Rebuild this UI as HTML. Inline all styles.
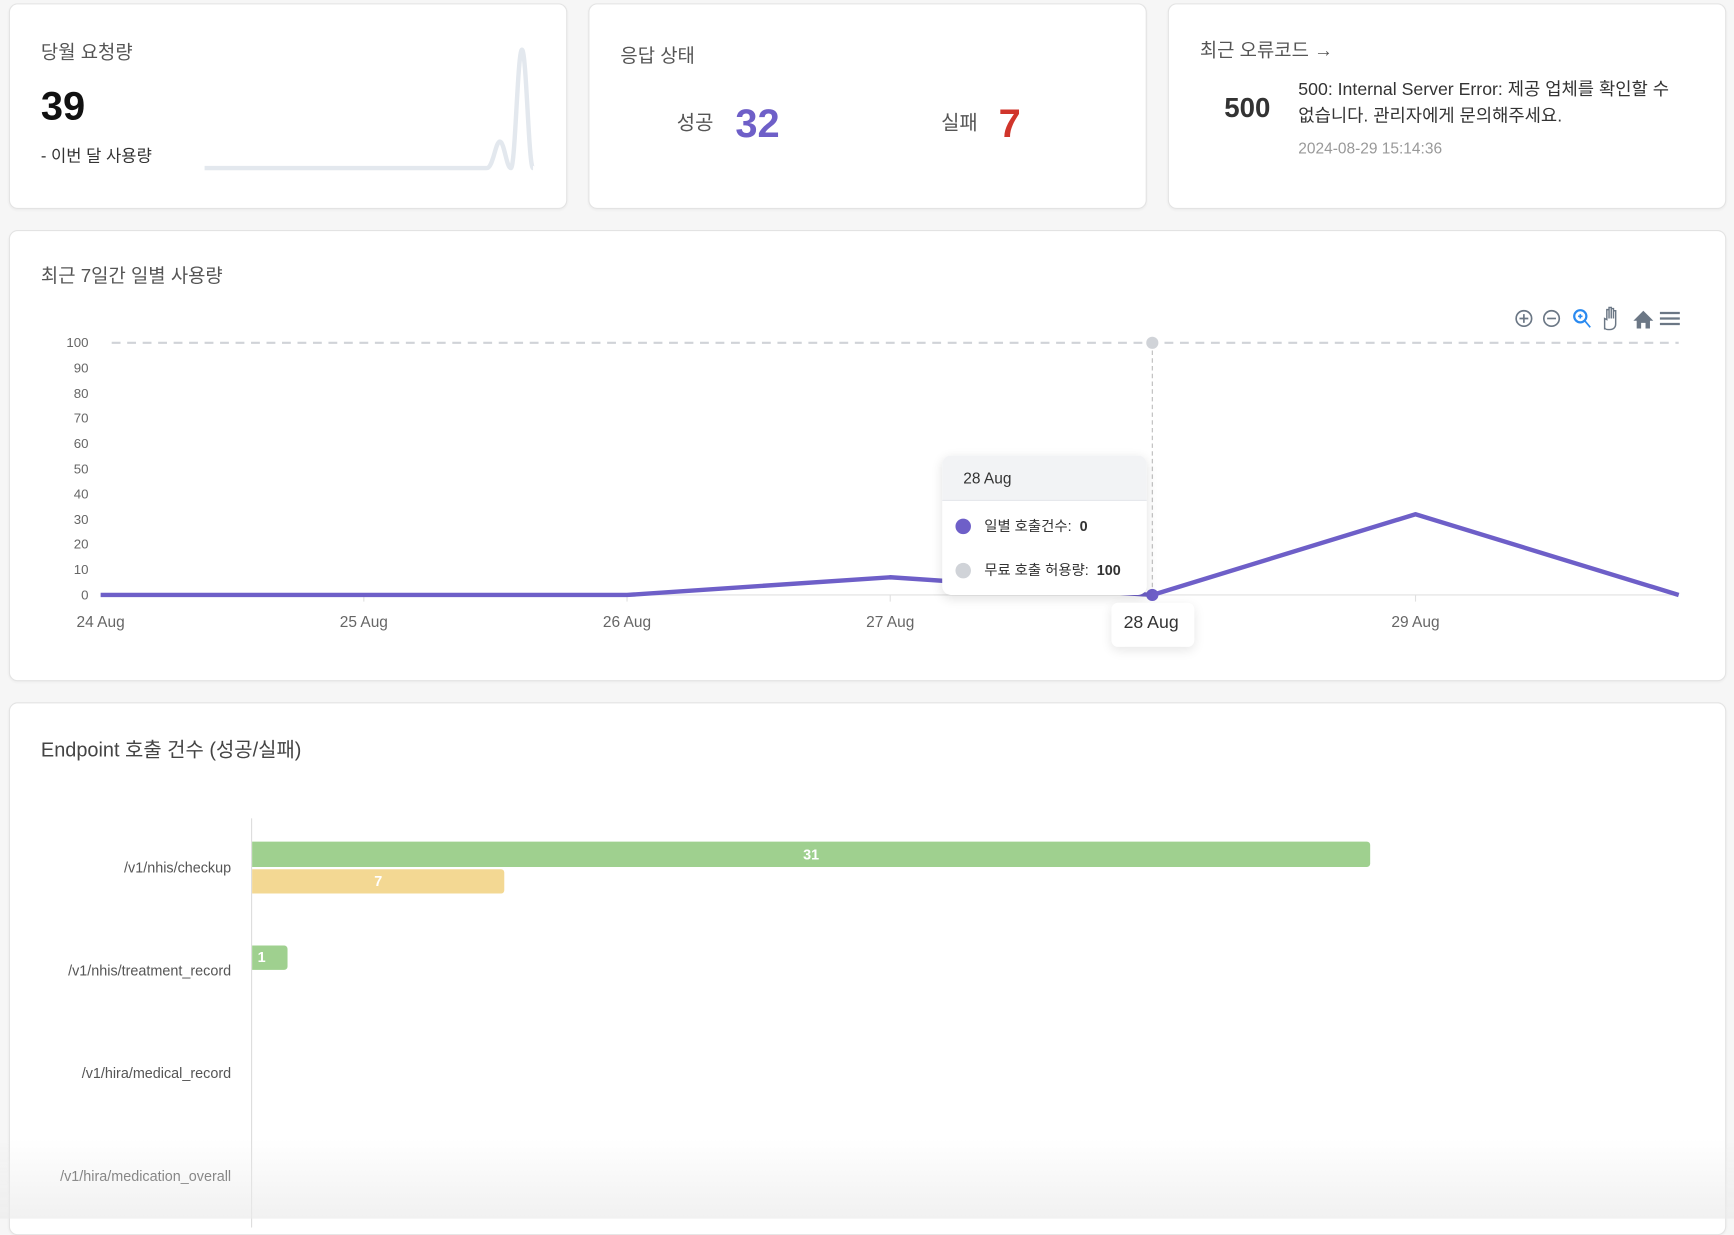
<!DOCTYPE html>
<html><head><meta charset="utf-8"><style>
html,body{margin:0;padding:0;width:1734px;height:1218px;overflow:hidden;background:#f6f6f6;}
#w{position:absolute;left:0;top:0;width:1568px;height:1102px;transform:scale(1.10587);transform-origin:0 0;font-family:"Liberation Sans","Noto Sans CJK KR",sans-serif;color:#333;}
.card{position:absolute;background:#fff;border:1px solid #e3e3e3;border-radius:8px;box-shadow:0 1px 2px rgba(0,0,0,.04);}
.t{position:absolute;white-space:nowrap;line-height:1;}
</style></head><body><div id="w">
<div class="card" style="left:8px;top:3px;width:503px;height:184px"></div>
<div class="card" style="left:532px;top:3px;width:503px;height:184px"></div>
<div class="card" style="left:1056px;top:3px;width:503px;height:184px"></div>
<div class="card" style="left:8px;top:208px;width:1551px;height:406px"></div>
<div class="card" style="left:8px;top:635px;width:1551px;height:480px"></div>

<div class="t" style="left:37px;top:39px;font-size:17px;color:#555">당월 요청량</div>
<div class="t" style="left:37px;top:78px;font-size:36px;font-weight:bold;color:#111">39</div>
<div class="t" style="left:37px;top:134px;font-size:15px;color:#333">- 이번 달 사용량</div>
<svg style="position:absolute;left:0;top:0" width="520" height="190"><path d="M185 152 L440 152 C446 152,448 128,452 128 C456 128,458 152,462 152 C466 152,468 45,472 45 C476 45,478 152,482 152" fill="none" stroke="#e3e8ee" stroke-width="4"/></svg>

<div class="t" style="left:561px;top:42px;font-size:17px;color:#555">응답 상태</div>
<div class="t" style="left:612px;top:102px;font-size:18px;color:#555">성공</div>
<div class="t" style="left:665px;top:94px;font-size:36px;font-weight:bold;color:#6e5fc8">32</div>
<div class="t" style="left:851px;top:102px;font-size:18px;color:#555">실패</div>
<div class="t" style="left:903px;top:94px;font-size:36px;font-weight:bold;color:#d0352b">7</div>

<div class="t" style="left:1085px;top:37px;font-size:17px;color:#555">최근 오류코드 →</div>
<div class="t" style="left:1107px;top:86px;font-size:25px;font-weight:bold;color:#333">500</div>
<div class="t" style="left:1174px;top:74px;font-size:16px;color:#333">500: Internal Server Error: 제공 업체를 확인할 수</div>
<div class="t" style="left:1174px;top:98px;font-size:16px;color:#333">없습니다. 관리자에게 문의해주세요.</div>
<div class="t" style="left:1174px;top:127px;font-size:14px;color:#999">2024-08-29 15:14:36</div>

<div class="t" style="left:37px;top:241px;font-size:17px;color:#555">최근 7일간 일별 사용량</div>
<svg style="position:absolute;left:0;top:0" width="1568" height="620" font-family="Liberation Sans, Noto Sans CJK KR, sans-serif">
<g font-size="12" fill="#666" text-anchor="end">
<text x="80" y="314">100</text><text x="80" y="337">90</text><text x="80" y="360">80</text><text x="80" y="382">70</text><text x="80" y="405">60</text><text x="80" y="428">50</text><text x="80" y="451">40</text><text x="80" y="474">30</text><text x="80" y="496">20</text><text x="80" y="519">10</text><text x="80" y="542">0</text></g>
<line x1="91" y1="538" x2="1518" y2="538" stroke="#e0e0e0"/>
<g stroke="#e0e0e0"><line x1="329" y1="538" x2="329" y2="544"/><line x1="567" y1="538" x2="567" y2="544"/><line x1="805" y1="538" x2="805" y2="544"/><line x1="1280" y1="538" x2="1280" y2="544"/></g>
<g font-size="14" fill="#666" text-anchor="middle"><text x="91" y="567">24 Aug</text><text x="329" y="567">25 Aug</text><text x="567" y="567">26 Aug</text><text x="805" y="567">27 Aug</text><text x="1280" y="567">29 Aug</text></g>
<line x1="101" y1="310" x2="1518" y2="310" stroke="#d0d3d8" stroke-width="2" stroke-dasharray="8,6"/>
<line x1="1042" y1="310" x2="1042" y2="538" stroke="#bbb" stroke-dasharray="4,3"/>
<polyline points="91,538 329,538 567,538 805,522 1042,538 1280,465 1518,538" fill="none" stroke="#6e5fc8" stroke-width="4" stroke-linejoin="round"/>
<circle cx="1042" cy="310" r="5.5" fill="#d0d3d8"/>
<circle cx="1042" cy="538" r="5.5" fill="#6e5fc8"/>
<g fill="none" stroke="#6b7785" stroke-width="1.5"><circle cx="1378" cy="288" r="7"/><path d="M1374 288h8M1378 284v8"/><circle cx="1403" cy="288" r="7"/><path d="M1399 288h8"/></g>
<g fill="none" stroke="#2a8af0" stroke-width="2"><circle cx="1429" cy="286" r="5.5"/><path d="M1433 290l5 6M1427 286h4M1429 284v4" stroke-width="1.5"/></g>
<path d="M1451 298v-10l2 1v-9h2v8v-10h2v10v-9h2v9v-7h2v12c0 3-2 5-5 5h-2c-2 0-3-1-3-2z" fill="none" stroke="#6b7785" stroke-width="1.3"/>
<path d="M1477 290l9-9 9 9h-3v7h-4v-5h-4v5h-4v-7z" fill="#6b7785"/>
<g stroke="#6b7785" stroke-width="2"><path d="M1501 283h18M1501 288h18M1501 293h18"/></g>
</svg>
<div style="position:absolute;left:852px;top:412px;width:185px;height:126px;background:#fff;border-radius:8px;box-shadow:0 3px 10px rgba(0,0,0,.12);overflow:hidden">
<div style="height:40px;background:#f2f3f5;border-bottom:1px solid #e5e7eb"></div>
<div class="t" style="left:19px;top:13px;font-size:14px;color:#333">28 Aug</div>
<div style="position:absolute;left:12px;top:57px;width:14px;height:14px;border-radius:50%;background:#6e5fc8"></div>
<div class="t" style="left:38px;top:57px;font-size:13px;color:#333">일별 호출건수:&nbsp; <b>0</b></div>
<div style="position:absolute;left:12px;top:97px;width:14px;height:14px;border-radius:50%;background:#d0d3d8"></div>
<div class="t" style="left:38px;top:97px;font-size:13px;color:#333">무료 호출 허용량:&nbsp; <b>100</b></div>
</div>
<div style="position:absolute;left:1005px;top:545px;width:75px;height:40px;background:#fff;border-radius:6px;box-shadow:0 3px 10px rgba(0,0,0,.1)"></div>
<div class="t" style="left:1016px;top:556px;font-size:16px;color:#333">28 Aug</div>

<div class="t" style="left:37px;top:669px;font-size:18px;color:#444">Endpoint 호출 건수 (성공/실패)</div>
<div style="position:absolute;left:227px;top:740px;width:1px;height:370px;background:#ddd"></div>
<div class="t" style="right:1359px;top:778px;font-size:13px;color:#555">/v1/nhis/checkup</div>
<div class="t" style="right:1359px;top:871px;font-size:13px;color:#555">/v1/nhis/treatment_record</div>
<div class="t" style="right:1359px;top:964px;font-size:13px;color:#555">/v1/hira/medical_record</div>
<div class="t" style="right:1359px;top:1057px;font-size:13px;color:#555">/v1/hira/medication_overall</div>
<div style="position:absolute;left:228px;top:761px;width:1011px;height:23px;background:#9fd08f;border-radius:0 3px 3px 0;color:#fff;font-weight:bold;font-size:13px;text-align:center;line-height:23px">31</div>
<div style="position:absolute;left:228px;top:786px;width:228px;height:22px;background:#f3d893;border-radius:0 3px 3px 0;color:#fff;font-weight:bold;font-size:13px;text-align:center;line-height:22px">7</div>
<div style="position:absolute;left:228px;top:855px;width:32px;height:22px;background:#9fd08f;border-radius:0 3px 3px 0;color:#fff;font-weight:bold;font-size:13px;line-height:22px;padding-left:5px;box-sizing:border-box">1</div>
<div style="position:absolute;left:0;top:1030px;width:1568px;height:72px;background:linear-gradient(rgba(240,240,240,0),rgba(235,235,235,.7))"></div>
</div></body></html>
